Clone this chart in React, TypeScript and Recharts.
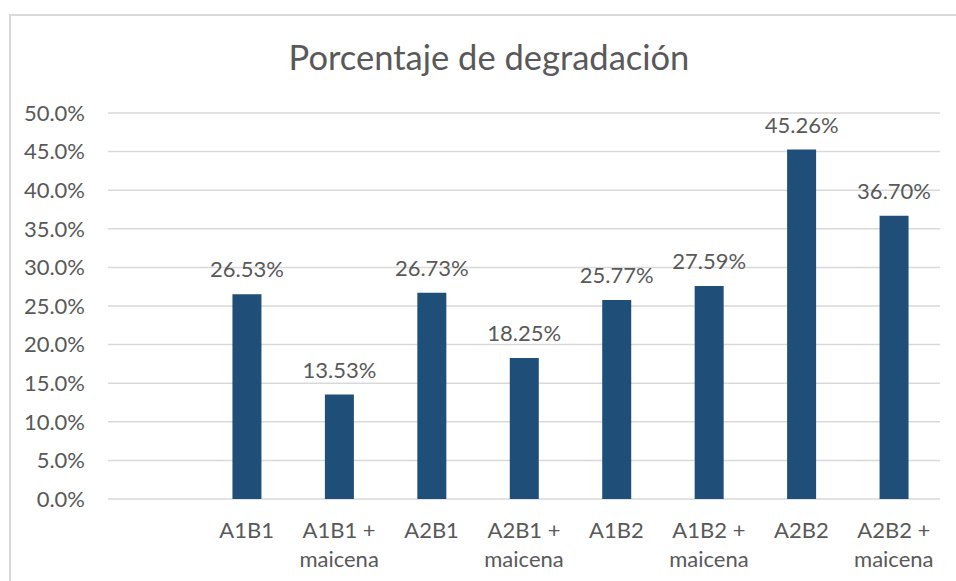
import React from 'react';
import { BarChart, Bar, XAxis, YAxis, CartesianGrid, LabelList } from 'recharts';

const categories = [
  '',
  'A1B1',
  'A1B1 + maicena',
  'A2B1',
  'A2B1 + maicena',
  'A1B2',
  'A1B2 + maicena',
  'A2B2',
  'A2B2 + maicena',
];
const degradacion: (number | null)[] = [null, 26.53, 13.53, 26.73, 18.25, 25.77, 27.59, 45.26, 36.7];
const yTicks = [0, 5, 10, 15, 20, 25, 30, 35, 40, 45, 50];

const data = categories.map((name, i) => ({ name, value: degradacion[i] }));

const TEXT = '#595959';
const FONT = 'Lato, "Liberation Sans", sans-serif';

// split "A1B1 + maicena" into two lines like Excel wraps it
const CategoryTick = (props: any) => {
  const { x, y, payload } = props;
  const label: string = payload.value || '';
  const parts = label.split(' + ');
  const lines = parts.length > 1 ? [parts[0] + ' +', parts[1]] : [label];
  return (
    <text x={x} y={y} textAnchor="middle" fill={TEXT} fontSize={22} fontFamily={FONT}>
      {lines.map((l, i) => (
        <tspan key={i} x={x} y={y + 39 + i * 29}>
          {l}
        </tspan>
      ))}
    </text>
  );
};

export default function App() {
  return (
    <div
      style={{
        position: 'fixed',
        left: 0,
        top: 0,
        width: 956,
        height: 581,
        overflow: 'hidden',
        background: '#fff',
        fontFamily: FONT,
      }}
    >
      {/* chart area border, only top and left visible in the crop */}
      <div
        style={{
          position: 'absolute',
          left: 9,
          top: 14,
          width: 1100,
          height: 800,
          borderTop: '2px solid #d9d9d9',
          borderLeft: '2px solid #d9d9d9',
        }}
      />
      <svg width={956} height={100} style={{ position: 'absolute', left: 0, top: 0 }}>
        <text x={489} y={70} textAnchor="middle" fill={TEXT} fontSize={34.5} fontFamily={FONT}>
          Porcentaje de degradación
        </text>
      </svg>
      <div style={{ position: 'absolute', left: 0, top: 0 }}>
        <BarChart
          width={956}
          height={581}
          data={data}
          margin={{ top: 113, right: 16, left: 0, bottom: 0 }}
          barCategoryGap="34%"
        >
          <CartesianGrid vertical={false} stroke="#d9d9d9" strokeWidth={1.5} />
          <XAxis
            dataKey="name"
            height={82}
            axisLine={false}
            tickLine={false}
            tickSize={0}
            tickMargin={0}
            interval={0}
            tick={<CategoryTick />}
          />
          <YAxis
            width={108}
            domain={[0, 50]}
            ticks={yTicks}
            axisLine={false}
            tickLine={false}
            tickSize={0}
            tickMargin={23}
            tick={{ fill: TEXT, fontSize: 22, fontFamily: FONT }}
            tickFormatter={(v: number) => `${v.toFixed(1)}%`}
          />
          <Bar dataKey="value" fill="#1f4e79" barSize={29} isAnimationActive={false}>
            <LabelList
              dataKey="value"
              position="top"
              offset={17}
              fill={TEXT}
              fontSize={22}
              fontFamily={FONT}
              formatter={(v: any) => (v == null ? '' : `${Number(v).toFixed(2)}%`)}
            />
          </Bar>
        </BarChart>
      </div>
    </div>
  );
}
